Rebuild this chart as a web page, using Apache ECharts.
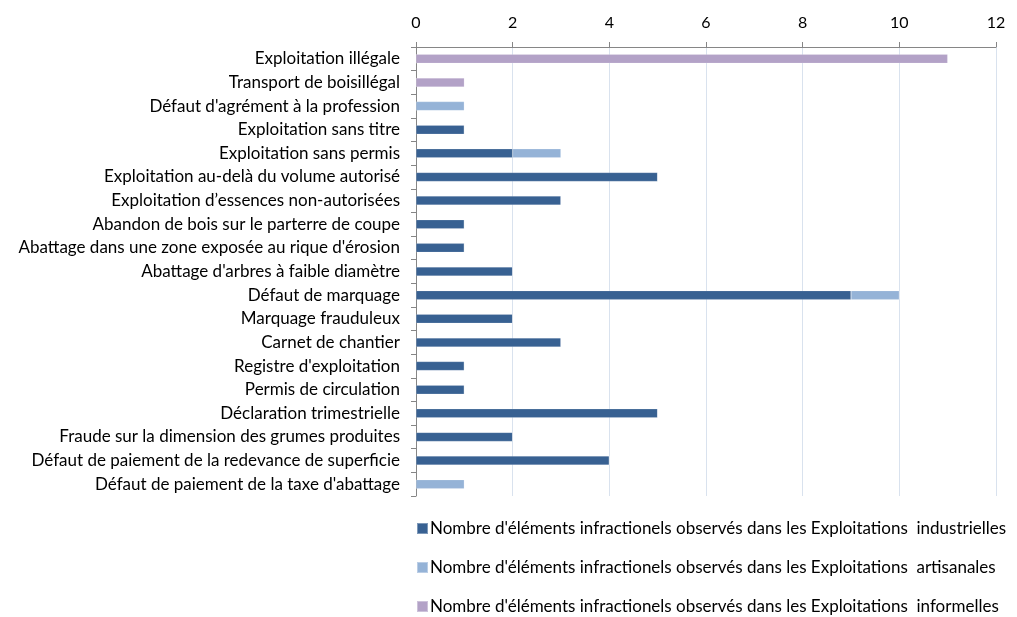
<!DOCTYPE html>
<html><head><meta charset="utf-8">
<script src="https://cdn.jsdelivr.net/npm/echarts@6/dist/echarts.min.js"></script>
<style>html,body{margin:0;padding:0;background:#fff}#c{width:1017px;height:617px}</style>
</head><body><div id="c"></div>
<script>
var categories = [
"Exploitation illégale",
"Transport de boisillégal",
"Défaut d'agrément à la profession",
"Exploitation sans titre",
"Exploitation sans permis",
"Exploitation au-delà du volume autorisé",
"Exploitation d’essences non-autorisées",
"Abandon de bois sur le parterre de coupe",
"Abattage dans une zone exposée au rique d'érosion",
"Abattage d'arbres à faible diamètre",
"Défaut de marquage",
"Marquage frauduleux",
"Carnet de chantier",
"Registre d'exploitation",
"Permis de circulation",
"Déclaration trimestrielle",
"Fraude sur la dimension des grumes produites",
"Défaut de paiement de la redevance de superficie",
"Défaut de paiement de la taxe d'abattage"
];
var industrielles = [0,0,0,1,2,5,3,1,1,2,9,2,3,1,1,5,2,4,0];
var artisanales   = [0,0,1,0,1,0,0,0,0,0,1,0,0,0,0,0,0,0,1];
var informelles   = [11,1,0,0,0,0,0,0,0,0,0,0,0,0,0,0,0,0,0];
var seriesNames = [
"Nombre d'éléments infractionels observés dans les Exploitations  industrielles",
"Nombre d'éléments infractionels observés dans les Exploitations  artisanales",
"Nombre d'éléments infractionels observés dans les Exploitations  informelles"
];
var xTicks = {min:0, max:12, interval:2};

var font = "Lato, 'Open Sans', sans-serif";
var chart = echarts.init(document.getElementById('c'));
function bar(name, data, color){
  return {name:name, type:'bar', stack:'t', data:data, barWidth:9,
    itemStyle:{color:color, borderColor:'rgba(255,255,255,0.35)', borderWidth:0.5}};
}
chart.setOption({
  animation:false,
  textStyle:{fontFamily:font},
  grid:{left:416, right:21, top:47, bottom:121, containLabel:false},
  xAxis:{type:'value', position:'top', min:xTicks.min, max:xTicks.max, interval:xTicks.interval,
    axisLine:{show:true, lineStyle:{color:'#868686'}},
    axisTick:{show:true, length:5, lineStyle:{color:'#868686'}},
    axisLabel:{color:'#000', fontSize:16, fontFamily:font, margin:16},
    splitLine:{show:true, lineStyle:{color:'#D9E2EE'}}},
  yAxis:{type:'category', data:categories, inverse:true,
    axisLine:{show:true, lineStyle:{color:'#868686'}},
    axisTick:{show:true, length:5, lineStyle:{color:'#868686'}},
    axisLabel:{color:'#000', fontSize:17, fontFamily:font, margin:16}},
  legend:{orient:'vertical', left:411, top:515, height:110, itemGap:22, itemWidth:11, itemHeight:11,
    icon:'rect', textStyle:{color:'#000', fontSize:17, fontFamily:font, padding:[0,0,0,-3]},
    data:seriesNames},
  series:[
    bar(seriesNames[0], industrielles, '#386192'),
    bar(seriesNames[1], artisanales, '#95B3D7'),
    bar(seriesNames[2], informelles, '#B3A2C7')
  ]
});
</script></body></html>
